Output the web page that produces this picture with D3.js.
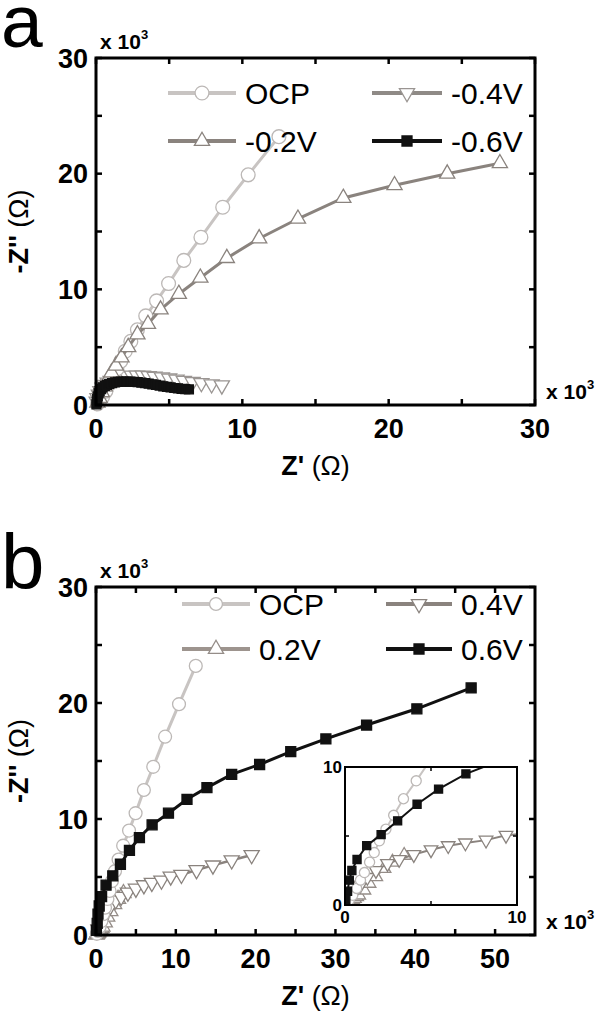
<!DOCTYPE html>
<html><head><meta charset="utf-8">
<script src="https://cdn.jsdelivr.net/npm/d3@7"></script>
<style>body{margin:0;background:#fff}</style>
</head><body><svg id="c" width="605" height="1020"></svg>
<script>
// ---------- DATA (units: x 10^3 ohm) ----------
const ocpZre  = [0.1,0.25,0.45,0.68,0.9,1.13,1.43,1.7,2.0,2.38,2.83,3.4,4.14,4.96,6.0,7.17,8.66,10.4,12.5];
const ocpZim  = [0.1,0.35,0.7,1.2,1.8,2.35,3.1,3.8,4.65,5.5,6.5,7.7,9.0,10.5,12.5,14.5,17.1,19.9,23.2];

const m02Zre  = [0.1,0.25,0.4,0.6,0.8,1.06,1.36,1.74,2.2,2.83,3.55,4.41,5.66,7.13,8.94,11.15,13.8,16.9,20.4,24.0,27.6];
const m02Zim  = [0.2,0.6,1.1,1.6,2.2,2.8,3.4,4.1,5.0,6.1,7.0,8.25,9.6,11.0,12.7,14.4,16.1,17.9,19.0,20.0,20.9];

const m04Zre  = [0.05,0.1,0.2,0.3,0.45,0.6,0.8,1.0,1.25,1.5,1.8,2.1,2.45,2.8,3.2,3.6,4.0,4.5,5.0,5.5,6.0,6.6,7.2,7.9,8.6];
const m04Zim  = [0.3,0.6,0.9,1.2,1.5,1.75,1.95,2.1,2.25,2.35,2.45,2.5,2.55,2.55,2.55,2.5,2.45,2.4,2.3,2.2,2.1,2.0,1.9,1.8,1.7];

const m06Zre  = [0.03,0.05,0.08,0.12,0.18,0.25,0.35,0.45,0.6,0.75,0.9,1.1,1.3,1.5,1.7,1.9,2.1,2.35,2.6,2.85,3.1,3.35,3.6,3.85,4.1,4.35,4.6,4.85,5.1,5.35,5.6,5.85,6.1,6.35];
const m06Zim  = [0.05,0.25,0.5,0.75,1.0,1.2,1.38,1.52,1.65,1.75,1.83,1.9,1.95,1.99,2.02,2.03,2.03,2.02,2.0,1.97,1.93,1.89,1.84,1.79,1.74,1.68,1.62,1.57,1.52,1.47,1.43,1.4,1.37,1.35];

const p02Zre  = [0.05,0.1,0.15,0.2,0.27,0.35,0.45,0.55,0.68,0.8,1.1,1.4,1.79,2.27,2.76,3.44];
const p02Zim  = [0.03,0.07,0.12,0.17,0.22,0.3,0.38,0.47,0.6,0.72,1.08,1.57,2.05,2.65,3.1,3.6];

const p04Zre  = [0.3,0.6,0.9,1.3,1.8,2.47,3.15,4.0,5.0,6.0,7.0,8.2,9.36,10.7,12.6,14.65,17.0,19.5];
const p04Zim  = [0.5,1.0,1.45,2.0,2.5,3.0,3.3,3.66,4.0,4.3,4.5,4.7,5.05,5.2,5.6,6.0,6.45,6.9];

const p06Zre  = [0.05,0.15,0.25,0.4,0.7,1.26,2.1,3.06,4.19,5.44,7.03,9.08,11.4,13.9,17.0,20.5,24.4,28.8,33.9,40.2,47.0];
const p06Zim  = [0.4,1.0,1.8,2.5,3.3,4.3,5.1,6.1,7.3,8.4,9.5,10.5,11.7,12.7,13.85,14.7,15.8,16.9,18.1,19.5,21.3];

const ticksA_x = [0,10,20,30];
const ticksB_x = [0,10,20,30,40,50];
const ticksY   = [0,10,20,30];
const ticksIn  = [0,10];

const legendA = ["OCP","-0.2V","-0.4V","-0.6V"];
const legendB = ["OCP","0.2V","0.4V","0.6V"];

// ---------- HELPERS ----------
const svg = d3.select("#c");
const zip = (xs, ys) => xs.map((x,i)=>[x, ys[i]]);
const FONT = "'Liberation Sans', Arial, Helvetica, sans-serif";

const styles = {
  ocp: {line:"#c8c4c2", stroke:"#bcb8b6", fill:"#fff", sym:"circle"},
  m02: {line:"#8a837e", stroke:"#8a837e", fill:"#fff", sym:"up"},
  m04: {line:"#8f8a86", stroke:"#9a9592", fill:"#fff", sym:"down"},
  m06: {line:"#111",    stroke:"#111",    fill:"#111", sym:"square"},
  p02: {line:"#9d948e", stroke:"#958d88", fill:"#fff", sym:"up"},
  p04: {line:"#8a837e", stroke:"#8a837e", fill:"#fff", sym:"down"},
  p06: {line:"#111",    stroke:"#111",    fill:"#111", sym:"square"}
};

function symPath(kind, size){
  if(kind==="circle") return d3.symbol(d3.symbolCircle, size)();
  if(kind==="square") return d3.symbol(d3.symbolSquare, size)();
  return d3.symbol(d3.symbolTriangle, size)();
}

function drawSeries(g, data, st, x, y, sizes, lw){
  g.append("path").datum(data)
    .attr("fill","none").attr("stroke",st.line).attr("stroke-width",lw)
    .attr("d", d3.line().x(d=>x(d[0])).y(d=>y(d[1])));
  const sz = st.sym==="circle"?sizes.c: st.sym==="square"?sizes.s: sizes.t;
  g.selectAll(null).data(data).join("path")
    .attr("d", symPath(st.sym, sz))
    .attr("transform", d=>`translate(${x(d[0])},${y(d[1])})`+(st.sym==="down"?" rotate(180)":""))
    .attr("fill", st.fill).attr("stroke", st.stroke).attr("stroke-width", 1.3);
}

function frameAxes(g, x, y, xt, xminor, yt, yminor, opt){
  const [x0,x1] = x.range(), [y0,y1] = y.range();
  const tl = opt.tick;
  const allX = xt.concat(xminor), allY = yt.concat(yminor);
  allX.forEach(v=>{
    g.append("line").attr("x1",x(v)).attr("x2",x(v)).attr("y1",y0).attr("y2",y0-tl).attr("stroke","#000").attr("stroke-width",opt.tw);
    g.append("line").attr("x1",x(v)).attr("x2",x(v)).attr("y1",y1).attr("y2",y1+tl).attr("stroke","#000").attr("stroke-width",opt.tw);
  });
  allY.forEach(v=>{
    g.append("line").attr("y1",y(v)).attr("y2",y(v)).attr("x1",x0).attr("x2",x0+tl).attr("stroke","#000").attr("stroke-width",opt.tw);
    g.append("line").attr("y1",y(v)).attr("y2",y(v)).attr("x1",x1).attr("x2",x1-tl).attr("stroke","#000").attr("stroke-width",opt.tw);
  });
  g.append("rect").attr("x",x0).attr("y",y1).attr("width",x1-x0).attr("height",y0-y1)
    .attr("fill","none").attr("stroke","#000").attr("stroke-width",opt.fw);
  xt.forEach(v=>{
    g.append("text").attr("x",x(v)).attr("y",y0+opt.xlDy).attr("text-anchor","middle")
      .attr("font-family",FONT).attr("font-weight","bold").attr("font-size",opt.fs).text(v);
  });
  yt.forEach(v=>{
    g.append("text").attr("x",x0-opt.ylDx).attr("y",y(v)).attr("dy","0.36em").attr("text-anchor","end")
      .attr("font-family",FONT).attr("font-weight","bold").attr("font-size",opt.fs).text(v);
  });
}

function x103(g, xx, yy){
  const t = g.append("text").attr("x",xx).attr("y",yy).attr("font-family",FONT).attr("font-weight","bold").attr("font-size",21);
  t.append("tspan").text("x 10");
  t.append("tspan").attr("dy",-10).attr("font-size",13).text("3");
}

function legend(g, items){
  items.forEach(it=>{
    g.append("line").attr("x1",it.x1).attr("x2",it.x2).attr("y1",it.y).attr("y2",it.y)
      .attr("stroke",it.st.line).attr("stroke-width",4);
    g.append("path").attr("d",symPath(it.st.sym, it.size))
      .attr("transform",`translate(${(it.x1+it.x2)/2},${it.y})`+(it.st.sym==="down"?" rotate(180)":""))
      .attr("fill",it.st.fill).attr("stroke",it.st.stroke).attr("stroke-width",1.3);
    g.append("text").attr("x",it.x2+9).attr("y",it.y).attr("dy","0.36em")
      .attr("font-family",FONT).attr("font-size",30).text(it.label);
  });
}

function axisTitles(g, cx, yTitleY, yCenter){
  const t = g.append("text").attr("x",cx).attr("y",yTitleY).attr("text-anchor","middle")
    .attr("font-family",FONT).attr("font-size",27);
  t.append("tspan").attr("font-weight","bold").text("Z'");
  t.append("tspan").text(" (Ω)");
  const r = g.append("text").attr("transform",`translate(28,${yCenter}) rotate(-90)`).attr("text-anchor","middle")
    .attr("font-family",FONT).attr("font-size",27);
  r.append("tspan").attr("font-weight","bold").text("-Z''");
  r.append("tspan").text(" (Ω)");
}

// ---------- PANEL A ----------
{
  const L=96, R=535, T=58, B=405;
  const x = d3.scaleLinear().domain([0,30]).range([L,R]);
  const y = d3.scaleLinear().domain([0,30]).range([B,T]);
  const g = svg.append("g");
  const sizes = {c:150, t:100, s:80};
  drawSeries(g, zip(m04Zre,m04Zim), styles.m04, x, y, sizes, 2);
  drawSeries(g, zip(ocpZre,ocpZim), styles.ocp, x, y, sizes, 3);
  drawSeries(g, zip(m02Zre,m02Zim), styles.m02, x, y, sizes, 3);
  drawSeries(g, zip(m06Zre,m06Zim), styles.m06, x, y, sizes, 3);
  frameAxes(g, x, y, ticksA_x, [5,15,25], ticksY, [5,15,25], {tick:6, tw:2.5, fw:3, fs:27, xlDy:33, ylDx:8});
  legend(g, [
    {x1:168,x2:236,y:93, st:styles.ocp, size:150, label:legendA[0]},
    {x1:168,x2:236,y:141,st:styles.m02, size:100, label:legendA[1]},
    {x1:372,x2:442,y:93, st:styles.m04, size:100, label:legendA[2]},
    {x1:372,x2:442,y:141,st:styles.m06, size:100, label:legendA[3]}
  ]);
  x103(g, 100, T-9);
  x103(g, R+11, B-6);
  axisTitles(g, (L+R)/2, 475, (T+B)/2);
  g.append("text").attr("x",1).attr("y",47).attr("font-family",FONT).attr("font-size",75).text("a");
}

// ---------- PANEL B ----------
{
  const L=96, R=535, T=587, B=935;
  const x = d3.scaleLinear().domain([0,55]).range([L,R]);
  const y = d3.scaleLinear().domain([0,30]).range([B,T]);
  const g = svg.append("g");
  const sizes = {c:130, t:100, s:100};
  drawSeries(g, zip(p02Zre,p02Zim), styles.p02, x, y, sizes, 2.5);
  drawSeries(g, zip(p04Zre,p04Zim), styles.p04, x, y, sizes, 2.5);
  drawSeries(g, zip(ocpZre,ocpZim), styles.ocp, x, y, sizes, 3);
  drawSeries(g, zip(p06Zre,p06Zim), styles.p06, x, y, sizes, 3);
  frameAxes(g, x, y, ticksB_x, [5,15,25,35,45], ticksY, [5,15,25], {tick:6, tw:2.5, fw:3, fs:27, xlDy:33, ylDx:8});
  legend(g, [
    {x1:182,x2:250,y:604, st:styles.ocp, size:130, label:legendB[0]},
    {x1:182,x2:250,y:649, st:styles.p02, size:100, label:legendB[1]},
    {x1:386,x2:452,y:604, st:styles.p04, size:100, label:legendB[2]},
    {x1:386,x2:452,y:649, st:styles.p06, size:100, label:legendB[3]}
  ]);
  x103(g, 100, T-9);
  x103(g, R+11, B-6);
  axisTitles(g, (L+R)/2, 1005, (T+B)/2);
  g.append("text").attr("x",1).attr("y",589).attr("font-family",FONT).attr("font-size",78).text("b");

  // inset
  const iL = R-18-172, iR = R-18, iT = 767, iB = 905;
  const xi = d3.scaleLinear().domain([0,10]).range([iL,iR]);
  const yi = d3.scaleLinear().domain([0,10]).range([iB,iT]);
  const gi = g.append("g");
  gi.append("clipPath").attr("id","ic").append("rect").attr("x",iL).attr("y",iT).attr("width",iR-iL).attr("height",iB-iT);
  const gc = gi.append("g").attr("clip-path","url(#ic)");
  const isz = {c:80, t:80, s:65};
  drawSeries(gc, zip(p02Zre,p02Zim), styles.p02, xi, yi, isz, 2);
  drawSeries(gc, zip(p04Zre,p04Zim), styles.p04, xi, yi, isz, 2);
  drawSeries(gc, zip(ocpZre,ocpZim), styles.ocp, xi, yi, isz, 2);
  drawSeries(gc, zip(p06Zre,p06Zim), styles.p06, xi, yi, isz, 2);
  frameAxes(gi, xi, yi, ticksIn, [5], ticksIn, [5], {tick:4, tw:1.5, fw:2, fs:17, xlDy:18, ylDx:3});
}
</script></body></html>
